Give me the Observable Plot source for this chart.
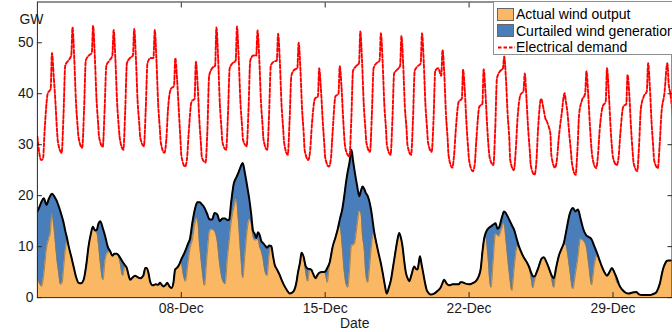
<!DOCTYPE html>
<html><head><meta charset="utf-8">
<script src="https://cdn.jsdelivr.net/npm/d3@7"></script>
<script src="https://cdn.jsdelivr.net/npm/@observablehq/plot@0.6"></script>
<style>
html,body{margin:0;padding:0;overflow:hidden;background:#fff;}
#wrap{position:relative;width:672px;height:332px;overflow:hidden;font-family:"Liberation Sans",Arial,sans-serif;}
#legend{position:absolute;left:493px;top:1px;width:240px;height:54px;background:#fff;border:1px solid #8f8f8f;box-sizing:border-box;font-size:14px;color:#000;}
.row{position:absolute;left:3px;height:16px;display:flex;align-items:center;white-space:nowrap;}
.sw{width:17px;height:13px;border:1px solid #666;box-sizing:border-box;margin-right:2px;}
</style></head>
<body>
<div id="wrap"></div>
<script>
// ---- data ----
const startDate = "2013-12-01";          // first day on the x axis
const endDay = 30.87;                    // days after start shown
const xTickDates = ["2013-12-08", "2013-12-15", "2013-12-22", "2013-12-29"];
const yTickValues = [0, 10, 20, 30, 40, 50];

// electrical demand (GW): one row per day, sampled at these hours of the day
const demandHours = [0, 4.3, 6.5, 8.5, 12, 15.5, 17, 19, 21, 23];
const demandByDay = [
  [31.6, 27.0, 27.2, 33, 40, 41, 48, 43.5, 38.5, 32.5],
  [30.5, 28.4, 36, 45.5, 46.5, 47.5, 53, 47, 38.5, 33.5],
  [31.5, 29.4, 37, 46.5, 47.5, 48, 53.3, 47.5, 39, 34],
  [31.5, 29.6, 37, 45.5, 46.5, 47.5, 52.5, 47, 38.5, 33.5],
  [31.5, 29.0, 36.5, 46, 47, 47.5, 52.7, 47, 38.5, 34],
  [31.5, 29.7, 37, 46, 47, 47, 52.5, 46.5, 38, 33],
  [30.5, 28.4, 31, 37, 41, 41.5, 47, 43, 37, 31],
  [28, 25.7, 27, 32, 38.5, 39, 46.3, 42, 35, 30],
  [27.5, 26.5, 33, 43.5, 45, 45.5, 53, 47, 38, 33],
  [30.5, 29, 36, 45, 46, 46.5, 53.2, 47, 38.5, 33.5],
  [31, 29.7, 37, 46.5, 47.5, 47.5, 52.4, 47, 38.5, 33.5],
  [31, 29, 36, 45.5, 46.3, 46.5, 51.8, 46.5, 38, 33],
  [30.5, 28, 35, 43.5, 44.7, 45, 50, 45, 37, 32],
  [29, 27, 29, 34, 39, 39.5, 45, 41, 35, 30],
  [27.5, 25.7, 27, 32, 39.5, 40, 45.4, 41.5, 35, 30],
  [29, 27.7, 35, 44.5, 45.4, 46, 52.2, 46.5, 38, 33],
  [30.5, 28.6, 36, 45, 46, 46.5, 51.9, 46.5, 38, 33],
  [30, 28, 35, 44, 44.7, 45.5, 51.3, 46, 37.5, 33],
  [30, 28, 35, 44.5, 45.4, 46, 51.9, 46.5, 38, 33],
  [30.5, 28.6, 35, 44.5, 45, 43.5, 48.6, 44, 36, 31],
  [28, 25.5, 28, 33, 38.5, 39, 44.7, 40.5, 34, 29],
  [27, 24.8, 26, 31, 37.5, 38, 44.8, 40.5, 34, 29],
  [27.5, 26, 33, 43, 44.4, 45, 47.3, 43, 36, 31],
  [27, 25, 29, 35, 39.8, 40.5, 44, 39, 33, 28.5],
  [26, 24.1, 26.5, 33, 39, 36.5, 35.2, 34.5, 33.5, 32],
  [28, 25.5, 27, 31, 36, 40.1, 38.5, 36, 32, 28.5],
  [26.5, 24.1, 29, 36, 38.8, 40, 44.4, 40, 34, 29],
  [27.5, 25.4, 28, 33, 37.5, 38.5, 45, 40.5, 34, 29],
  [27.5, 26, 27.5, 32, 37.5, 38, 43.7, 40, 33.5, 28.5],
  [26.5, 24.8, 30, 37, 39.5, 40.5, 46, 41.5, 34.5, 29.5],
  [27, 25.4, 30, 36, 40, 46, 42, 40, 37, 33]
];

// wind (GW): time in days after start, potential total and actual output
const windDay = [0,0.1,0.2,0.31,0.44,0.55,0.63,0.71,0.8,0.87,0.95,1.03,1.12,1.2,1.28,1.36,1.45,1.52,1.65,1.76,1.9,2,2.12,2.25,2.38,2.49,2.6,2.7,2.8,2.89,2.97,3.06,3.19,3.3,3.42,3.54,3.65,3.75,3.87,4,4.15,4.27,4.35,4.45,4.51,4.6,4.75,4.88,5,5.15,5.25,5.32,5.42,5.48,5.6,5.77,5.87,5.97,6.05,6.13,6.22,6.32,6.42,6.53,6.62,6.7,6.78,6.9,7,7.1,7.2,7.32,7.42,7.55,7.66,7.78,7.9,8,8.13,8.25,8.38,8.5,8.62,8.75,8.87,9,9.13,9.25,9.33,9.42,9.55,9.68,9.78,9.9,9.99,10.1,10.2,10.3,10.4,10.49,10.57,10.65,10.73,10.81,10.9,10.98,11.08,11.17,11.28,11.38,11.46,11.54,11.66,11.78,11.9,12.03,12.15,12.27,12.4,12.51,12.6,12.67,12.78,12.85,12.95,13.05,13.15,13.25,13.32,13.42,13.53,13.62,13.72,13.85,13.95,14.02,14.1,14.21,14.37,14.5,14.61,14.72,14.83,14.93,15.02,15.1,15.18,15.28,15.35,15.42,15.55,15.66,15.74,15.82,15.9,15.98,16.07,16.17,16.26,16.31,16.39,16.5,16.63,16.72,16.8,16.9,16.99,17.1,17.2,17.3,17.41,17.5,17.6,17.68,17.76,17.85,17.93,18.01,18.09,18.2,18.33,18.42,18.49,18.56,18.61,18.69,18.77,18.85,18.93,19.03,19.14,19.3,19.46,19.62,19.72,19.79,19.9,20.03,20.2,20.35,20.5,20.58,20.67,20.8,21,21.15,21.32,21.45,21.57,21.65,21.73,21.81,21.92,22,22.07,22.17,22.29,22.38,22.45,22.58,22.7,22.8,22.95,23.08,23.2,23.34,23.42,23.55,23.67,23.8,23.91,24.03,24.1,24.2,24.27,24.39,24.52,24.64,24.76,24.88,25,25.12,25.24,25.36,25.5,25.61,25.7,25.77,25.88,26.05,26.17,26.3,26.42,26.55,26.7,26.82,26.96,27.1,27.22,27.34,27.46,27.58,27.71,27.83,27.95,28.07,28.19,28.3,28.44,28.6,28.76,28.95,29.13,29.25,29.4,29.6,29.81,29.95,30.1,30.2,30.29,30.37,30.45,30.55,30.62,30.7,30.9];
const windTotal = [16.9,17.8,18.8,19.5,18.2,19.3,20,20.4,20,19.5,18.9,18,16.9,15.8,14.6,13,11.5,10.1,8,6.1,3.8,2.9,2.8,3.5,6.5,10.1,12.5,13.9,13.2,13.3,14.5,15,13.5,12,10,9.1,8.2,8.6,8.6,8,7,6.3,5.8,4.2,3.5,3.8,4.3,4,3.8,4.3,5.8,5.8,4.5,3.2,2.4,2.6,2.5,2.9,2.5,2.2,2.4,2.9,2.2,1.9,3,5.5,5.8,6.5,7.5,8.3,9.2,10.5,11.5,15,17.3,18.7,18.7,18.3,17.6,16.5,15.3,15.3,16.6,16.3,15,15.5,15.5,15.2,15.3,18.5,22.3,23.6,24.5,25.8,26.4,24.3,22,19.5,16.4,13.1,12.5,11.7,12.8,12.3,11,10.7,10.2,9.8,10.2,10.1,8.2,6.5,5.5,4.5,3.3,2.2,1.4,0.8,1,1.6,3,4.8,7,8.8,8,6.2,5.7,5.6,5.5,4.6,3.8,4.4,4.9,5,5,5.2,5.8,6.8,10.1,11.8,13.4,15.5,17.3,20,22.8,24.8,26.4,29,27,25.1,22,19.9,21,21.8,21.3,20.5,19.9,18.5,16.5,15,12.7,10.5,8.1,6.5,4.8,2.5,0.8,2,3.5,6,8.8,11,12.7,11.8,10.1,7,4.8,3.8,3.2,4.5,6.1,5.6,5.5,7,8.1,6.5,4.8,3,1.6,0.9,0.6,0.8,1.3,2,3,3.5,2.8,2.4,2.6,2.6,2.6,3,3,2.8,2.6,2.8,3.2,4,5.8,9,11.5,12.7,13.5,13.8,14,14.3,14.6,13.5,13.7,15.5,16.9,16.5,15.3,14.2,13.2,11.2,10.1,8.8,7.8,7,6.1,4.8,4.2,4.2,4.8,6.1,7.6,7.9,7,5.8,4.5,3.8,6,8.1,9.6,10.7,12.5,14,16.2,17.6,16.9,17.3,15.5,13.5,12.2,11.9,11.4,10,8.8,7.4,6.1,5,4.3,5,5.8,4.9,3.8,2.5,1.6,1,0.8,1,1.1,0.7,0.5,0.5,0.5,0.7,1,1.8,2.9,4.5,5.8,6.8,7.2,7.3,7.3];
const windActual = [4,2.8,2.2,4.5,9.5,11.5,12.7,16.5,14,11,7.5,5,2.6,2.8,6,9.4,11,10.1,8,6.1,3.8,2.9,2.8,3.5,6.5,10.1,12.5,13.9,13,12.7,10.5,6.8,3.5,7.5,8.8,9.1,8.2,8.6,8.6,7.3,4.3,6.3,5.8,4.2,3.5,3.8,4.3,4,3.8,4.3,5.8,5.8,4.5,3.2,2.4,2.6,2.5,2.9,2.5,2.2,2.4,2.9,2.2,1.9,3,5.5,5.8,6.5,6.8,4.5,3.2,6.5,9.5,11.5,14.5,15.5,10,6,2.4,8,13,13.4,13,11,6.5,3.5,2.7,8,11,14.5,17.5,19.3,15,8,3.9,8.5,13,15.3,14.5,12,11.3,11.3,11.5,10,9,7.5,5,4.3,8.5,10.1,8.2,6.5,5.5,4.5,3.3,2.2,1.4,0.8,1,1.6,3,4.8,7,8.8,8,5,3.2,5.5,5.5,4.6,3.8,4.4,4.9,5,5,4.5,3,6.5,10,11.8,13.4,14,10,5,2.6,2,5,10.1,10.3,10.5,14,17,16.6,12,9.4,4.5,3,6.5,10.5,12,12.7,10.5,8.1,6.5,4.8,2.5,0.8,2,3.5,6,8.8,11,12.7,11.8,10.1,7,4.8,3.8,3.2,4.5,6.1,5.6,5.5,7,8.1,6.5,4.8,3,1.6,0.9,0.6,0.8,1.3,2,3,3.5,2.8,2.4,2.6,2.6,2.6,3,3,2.8,2.6,2.8,3.2,4,5.8,9,11.5,12,8,3.5,2,7,12.5,12.3,12,13.5,14.6,11,5,1.4,6,10,10.1,8.8,7.8,7,6.1,3.5,1.9,3.5,4.8,6.1,7.6,7.9,7,5.8,4,2,5.5,8.1,9.6,10.3,10.5,9.2,6,1.7,4.5,8,11.5,11.2,10,6.5,2.5,6.5,8.2,7.4,6.1,5,4.3,5,5.8,4.9,3,2.5,1.6,1,0.8,1,1.1,0.7,0.5,0.5,0.5,0.7,1,1.8,2.9,4.5,5.8,6.8,7.2,7.3,7.3];

// ---- build tables ----
const DAY = 864e5;
const t0 = new Date(startDate + "T00:00:00Z").getTime();
const toDate = d => new Date(t0 + d * DAY);
const wind = windDay.map((d, i) => ({date: toDate(d), total: windTotal[i], actual: windActual[i]}));
const demand = demandByDay.flatMap((row, day) => row.map((v, j) => ({date: toDate(day + demandHours[j] / 24), gw: v})));
const xTicks = xTickDates.map(s => new Date(s + "T00:00:00Z"));
const blank = () => "";

const chart = Plot.plot({
  width: 674, height: 332,
  marginLeft: 37, marginRight: 0.5, marginTop: 1.5, marginBottom: 34,
  style: {fontFamily: "Liberation Sans, Arial, sans-serif", fontSize: "14px", color: "#1a1a1a", background: "#fff"},
  x: {type: "utc", domain: [toDate(0), toDate(endDay)], label: null},
  y: {domain: [0, 58], label: null},
  marks: [
    Plot.areaY(wind, {x: "date", y: "total", fill: "#4a7ebb", curve: "monotone-x", clip: true}),
    Plot.areaY(wind, {x: "date", y: "actual", fill: "#fbb864", curve: "monotone-x", clip: true}),
    Plot.lineY(wind, {x: "date", y: "actual", stroke: "#8c7652", strokeWidth: 0.8, curve: "monotone-x", clip: true}),
    Plot.lineY(wind, {x: "date", y: "total", stroke: "#000", strokeWidth: 2, curve: "monotone-x", clip: true}),
    Plot.lineY(demand, {x: "date", y: "gw", stroke: "#ff0000", strokeWidth: 1.9, strokeDasharray: "3.5,2", curve: "monotone-x", clip: true}),
    Plot.frame({stroke: "#262626"}),
    Plot.axisX(xTicks, {anchor: "bottom", tickSize: 0, tickPadding: 5, tickFormat: d3.utcFormat("%d-%b"), label: "Date", labelAnchor: "center", labelArrow: "none", labelOffset: 30}),
    Plot.axisX(xTicks, {anchor: "bottom", tickSize: -5, tickFormat: blank, label: null, stroke: "#262626"}),
    Plot.axisX(xTicks, {anchor: "top", tickSize: -5, tickFormat: blank, label: null, stroke: "#262626"}),
    Plot.axisY(yTickValues, {anchor: "left", tickSize: 0, tickPadding: 4, label: null}),
    Plot.axisY(yTickValues, {anchor: "left", tickSize: -5, tickFormat: blank, label: null, stroke: "#262626"}),
    Plot.axisY(yTickValues, {anchor: "right", tickSize: -5, tickFormat: blank, label: null, stroke: "#262626"}),
    Plot.text(["GW"], {text: d => d, frameAnchor: "top-left", dx: -18, dy: 12, fontSize: 14})
  ]
});
const wrap = document.getElementById("wrap");
wrap.appendChild(chart);

const legend = document.createElement("div");
legend.id = "legend";
legend.innerHTML =
  '<div class="row" style="top:4px"><div class="sw" style="background:#fbb864"></div>Actual wind output</div>' +
  '<div class="row" style="top:20.5px"><div class="sw" style="background:#4a7ebb"></div>Curtailed wind generation</div>' +
  '<div class="row" style="top:37px"><svg width="19" height="13"><line x1="1" x2="18" y1="6.5" y2="6.5" stroke="#ff0000" stroke-width="1.9" stroke-dasharray="3.5,2"/></svg>Electrical demand</div>';
wrap.appendChild(legend);
</script>
</body></html>
